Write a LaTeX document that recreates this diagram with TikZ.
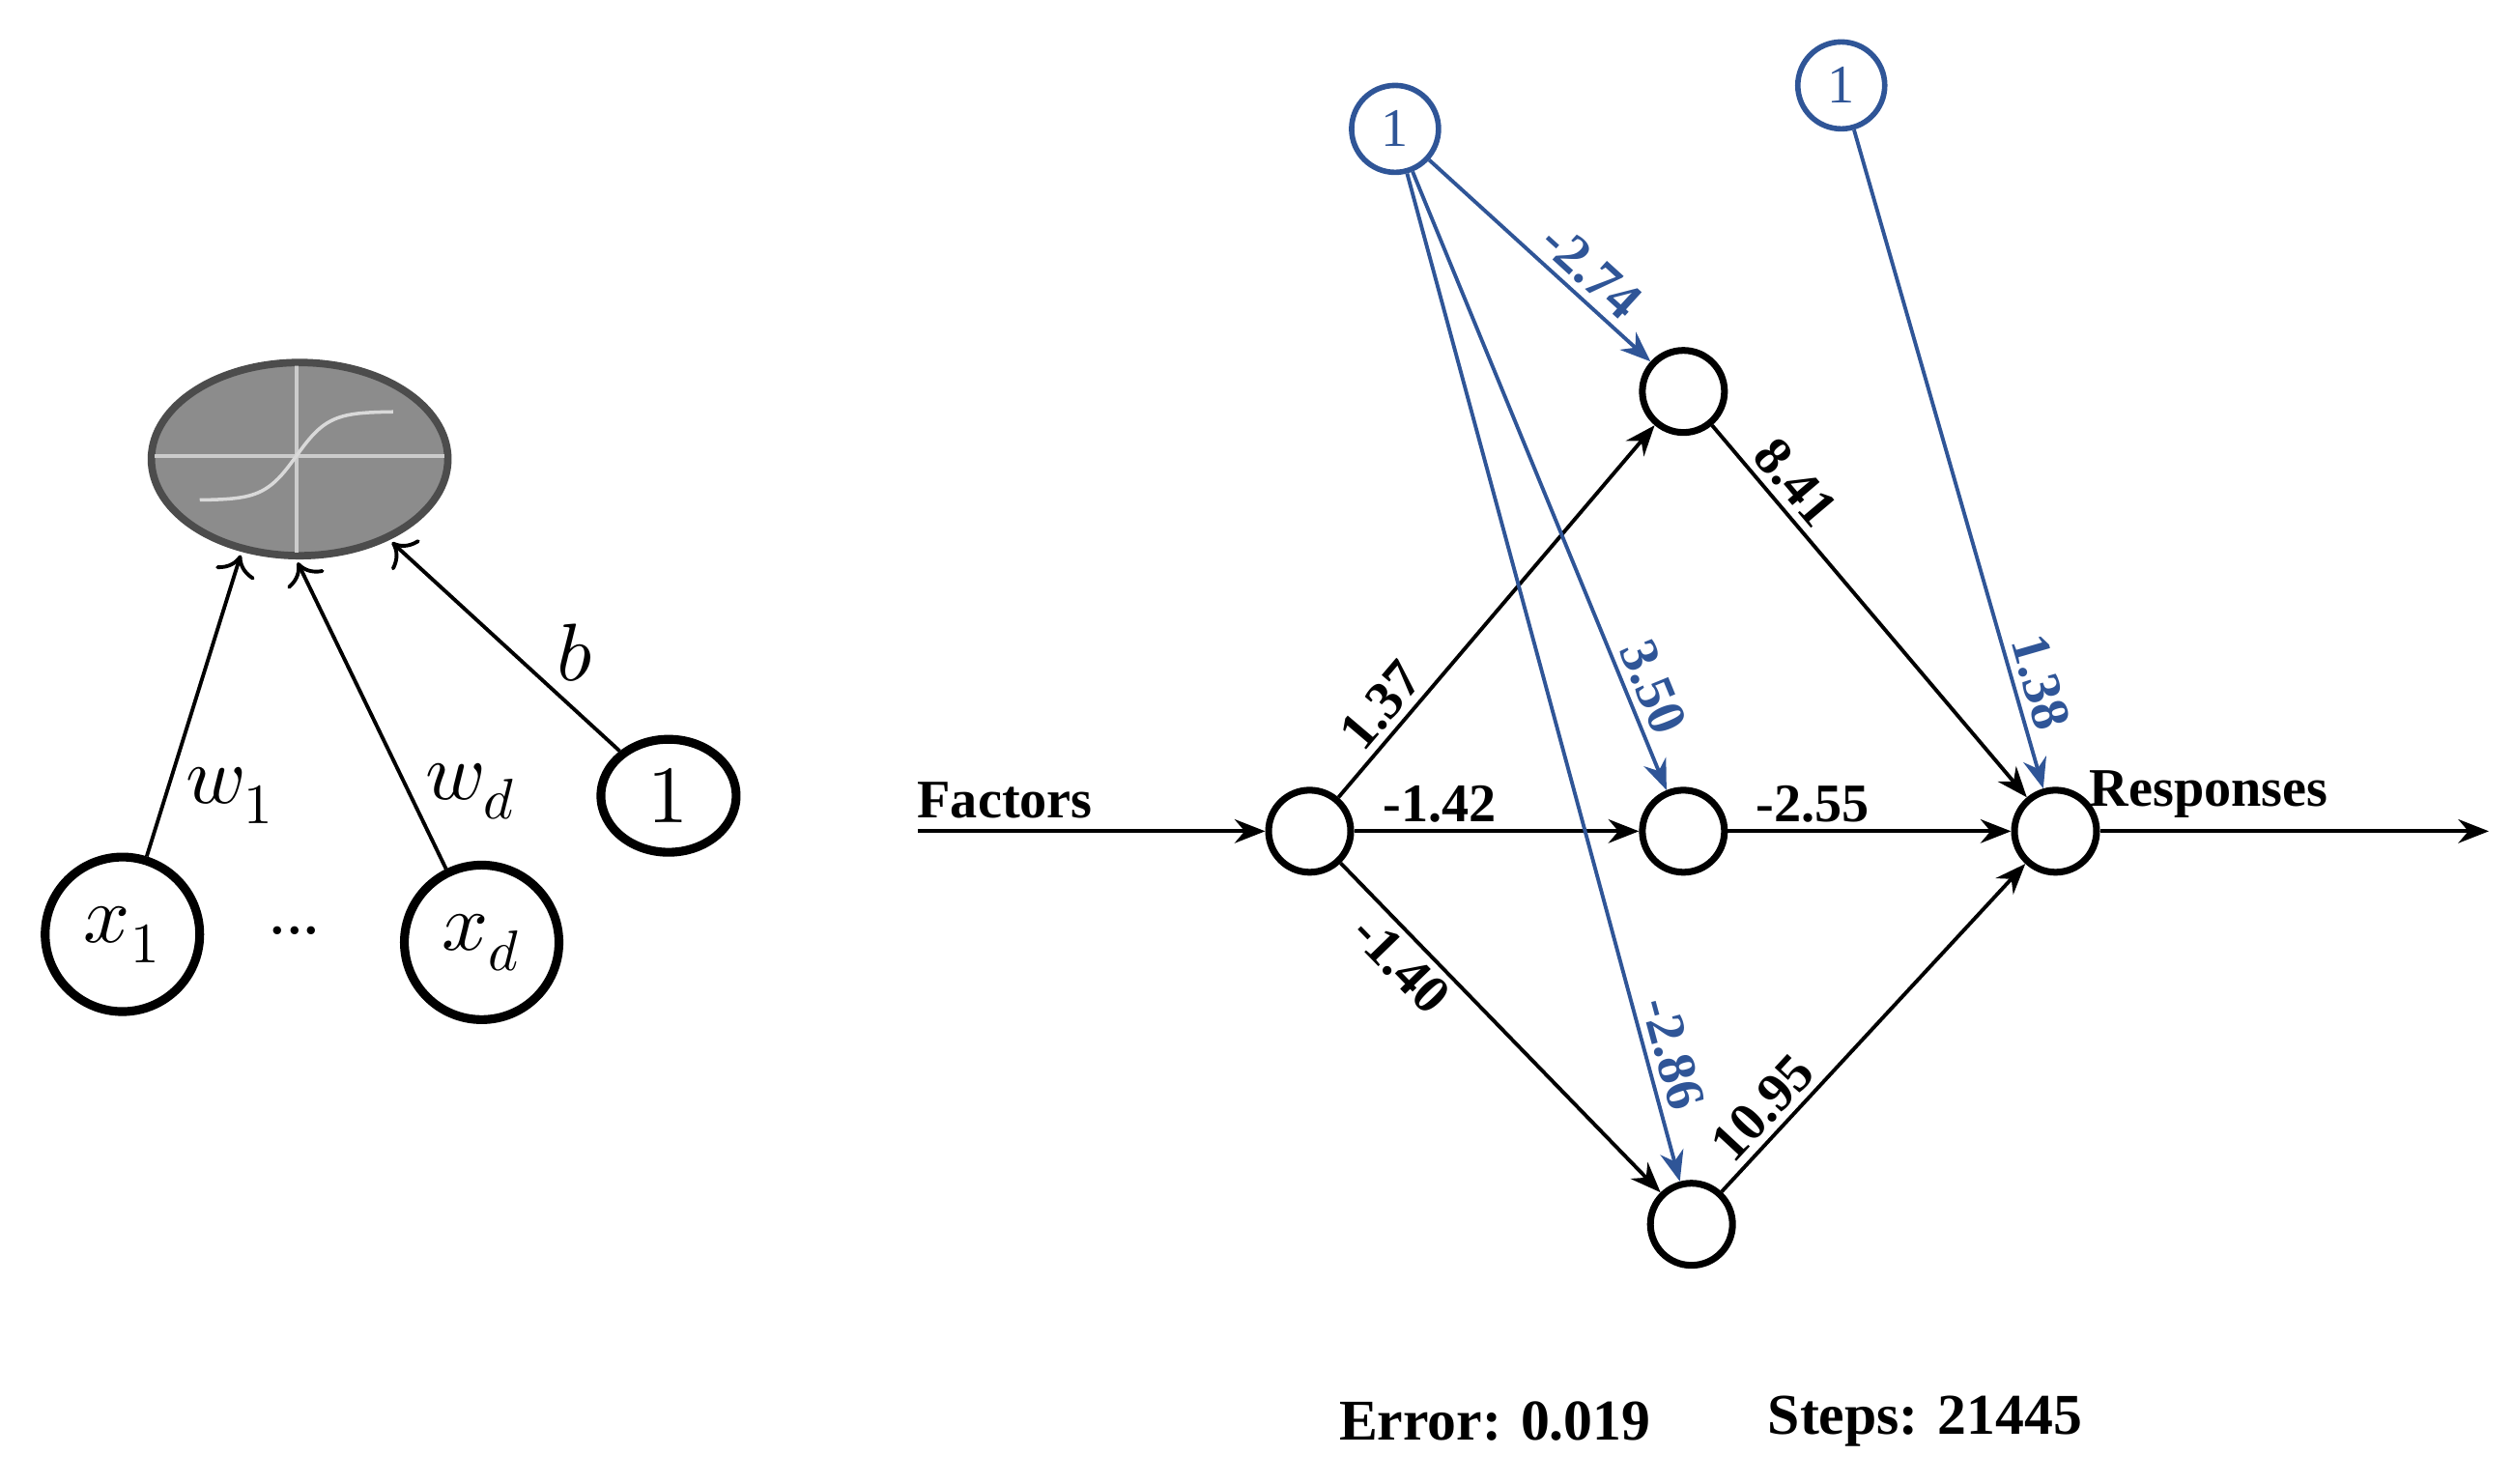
\documentclass[tikz,border=0pt]{standalone}
\usepackage{fontspec}
\setmainfont{Liberation Serif}
\usepackage{unicode-math}
\usetikzlibrary{arrows}
\usetikzlibrary{arrows.meta}
\usetikzlibrary{shapes.geometric}
\definecolor{biasblue}{RGB}{47,85,151}
\tikzset{
     neuron/.style={
           circle,
           draw=black, line width=2pt,
           minimum size=0.85cm,
           inner sep=0pt,
           },
     bias/.style={
           circle,
           draw=biasblue, line width=1.6pt,
           minimum size=0.9cm,
           inner sep=0pt,
           text=biasblue,
           font=\fontsize{16}{18}\selectfont,
           },
     unit/.style={
           circle,
           draw=black, line width=2.6pt,
           minimum size=1.6cm,
           inner sep=0pt,
           font=\fontsize{24}{28}\selectfont,
           },
     wt/.style={
           font=\bfseries\fontsize{16}{18}\selectfont,
           sloped, above, inner sep=2pt,
           },
     conn/.style={-{Stealth[length=9pt,width=7pt]}, line width=1.1pt},
     bconn/.style={conn, draw=biasblue},
     inp/.style={-{To[length=6pt,width=12pt]}, line width=1.1pt, shorten >=1pt},
}
\begin{document}
\begin{tikzpicture}[x=0.016673cm,y=-0.016673cm]
	\useasboundingbox (0,0) rectangle (1560,921);
	% single unit
	\node[ellipse, draw=black!70, fill=black!45, line width=2.2pt,
	      minimum width=3.07cm, minimum height=2cm] (act) at (186,285) {};
	\begin{scope}
		\clip (186,285) ellipse (90 and 58);
		\draw[white!80!black, line width=1pt] (96,283) -- (276,283) (184,226) -- (184,344);
		\draw[white!85!black, line width=1pt, domain=-6:6, samples=60]
			plot ({184+\x*10}, {283-55/(1+exp(-\x))+27.5});
	\end{scope}
	\node[unit] (x1) at (76,580) {$x_1$};
	\node[unit] (xd) at (299,585) {$x_d$};
	\node[unit, ellipse, minimum width=1.4cm, minimum height=1.17cm] (one) at (415,494) {$1$};
	\node[font=\fontsize{20}{24}\selectfont] (dots) at (183,578) {...};
	\draw[inp] (x1) -- node[pos=0.2, right=2pt, font=\fontsize{24}{28}\selectfont] {$w_1$} (act.238);
	\draw[inp] (xd) -- node[pos=0.25, right=1pt, font=\fontsize{24}{28}\selectfont] {$w_d$} (act.268);
	\draw[inp] (one) -- node[pos=0.3, above right=-2pt, font=\fontsize{24}{28}\selectfont] {$b$} (act.318);
	% network
	\coordinate (fin) at (570,516);
	\coordinate (fout) at (1545,516);
	\node[neuron] (in) at (813,516) {};
	\node[neuron] (h1) at (1045,243) {};
	\node[neuron] (h2) at (1045,516) {};
	\node[neuron] (h3) at (1050,760) {};
	\node[neuron] (out) at (1276,516) {};
	\node[bias] (b1) at (866,80) {1};
	\node[bias] (b2) at (1143,53) {1};
	\draw[conn] (fin) -- node[pos=0.25, above, font=\bfseries\fontsize{16}{18}\selectfont] {Factors} (in);
	\draw[conn] (out) -- node[pos=0.28, above, font=\bfseries\fontsize{16}{18}\selectfont] {Responses} (fout);
	\draw[conn] (in) -- node[wt, pos=0.2] {1.37} (h1);
	\draw[conn] (in) -- node[wt, pos=0.3] {-1.42} (h2);
	\draw[conn] (in) -- node[wt, pos=0.25, below] {-1.40} (h3);
	\draw[conn] (h1) -- node[wt, pos=0.2] {8.41} (out);
	\draw[conn] (h2) -- node[wt, pos=0.3] {-2.55} (out);
	\draw[conn] (h3) -- node[wt, pos=0.2] {10.95} (out);
	\draw[bconn] (b1) -- node[wt, pos=0.65, text=biasblue] {-2.74} (h1);
	\draw[bconn] (b1) -- node[wt, pos=0.85, text=biasblue] {3.50} (h2);
	\draw[bconn] (b1) -- node[wt, pos=0.88, text=biasblue] {-2.86} (h3);
	\draw[bconn] (b2) -- node[wt, pos=0.85, text=biasblue] {1.38} (out);
	\node[font=\bfseries\fontsize{17}{20}\selectfont] (err) at (928,882) {Error: 0.019};
	\node[font=\bfseries\fontsize{17}{20}\selectfont] (steps) at (1195,882) {Steps: 21445};
\end{tikzpicture}
\end{document}
